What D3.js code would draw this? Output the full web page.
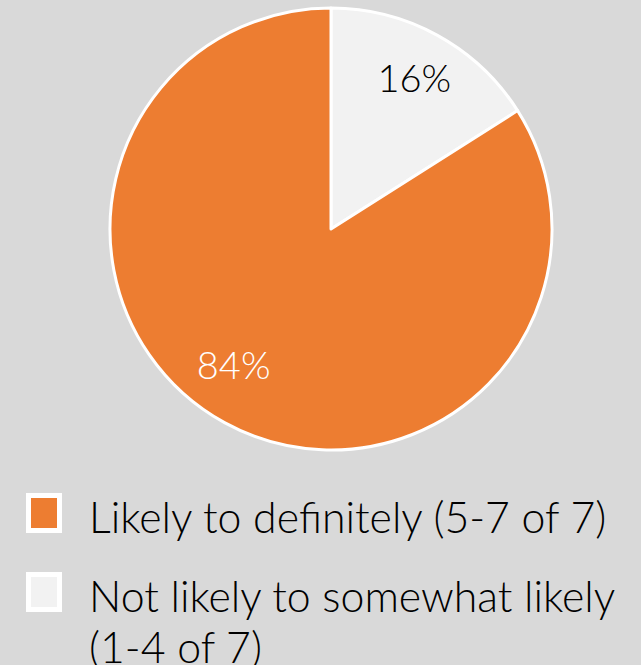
<!DOCTYPE html>
<html>
<head>
<meta charset="utf-8">
<script src="https://cdn.jsdelivr.net/npm/d3@7"></script>
<style>
  body { margin: 0; background: #d9d9d9; }
  svg { display: block; font-family: Lato, "Open Sans", sans-serif; font-weight: 300; }
</style>
</head>
<body>
<div id="chart"></div>
<script>
var categories = ["Not likely to somewhat likely (1-4 of 7)", "Likely to definitely (5-7 of 7)"]
var values = [16, 84]
var labels = ["16%", "84%"]
var colors = ["#f2f2f2", "#ed7d31"]
var labelColors = ["#000000", "#ffffff"]

// legend order (top to bottom)
var legendOrder = [1, 0]
var legendLines = [["Likely to definitely (5-7 of 7)"], ["Not likely to somewhat likely", "(1-4 of 7)"]]

var width = 641, height = 665
var cx = 331, cy = 229, radius = 221

var svg = d3.select("#chart").append("svg")
    .attr("width", width)
    .attr("height", height)

svg.append("rect")
    .attr("width", width)
    .attr("height", height)
    .attr("fill", "#d9d9d9")

var pie = d3.pie().sort(null).value(function(d) { return d; })
var arc = d3.arc().innerRadius(0).outerRadius(radius)
var labelArc = d3.arc().innerRadius(173).outerRadius(173)

var g = svg.append("g")
    .attr("transform", "translate(" + cx + "," + cy + ")")

var arcs = pie(values)

g.selectAll("path")
    .data(arcs)
    .enter().append("path")
    .attr("d", arc)
    .attr("fill", function(d, i) { return colors[i]; })
    .attr("stroke", "#ffffff")
    .attr("stroke-width", 3)
    .attr("stroke-linejoin", "round")

// small nudges to match the spreadsheet's label placement
var labelShift = [[0, 0], [-14, -17]]

g.selectAll("text.pct")
    .data(arcs)
    .enter().append("text")
    .attr("class", "pct")
    .attr("x", function(d, i) { return labelArc.centroid(d)[0] + labelShift[i][0]; })
    .attr("y", function(d, i) { return labelArc.centroid(d)[1] + labelShift[i][1]; })
    .attr("text-anchor", "middle")
    .attr("dominant-baseline", "central")
    .attr("font-size", 38)
    .attr("fill", function(d, i) { return labelColors[i]; })
    .text(function(d, i) { return labels[i]; })

/* legend */
var legendY = d3.scalePoint().domain(d3.range(legendOrder.length)).range([513, 592])

var legend = svg.selectAll(".legend")
    .data(legendOrder)
    .enter().append("g")
    .attr("class", "legend")
    .attr("transform", function(d, i) { return "translate(0," + legendY(i) + ")"; })

legend.append("rect")
    .attr("x", 28.5)
    .attr("y", -17.5)
    .attr("width", 31)
    .attr("height", 35)
    .attr("fill", function(d) { return colors[d]; })
    .attr("stroke", "#ffffff")
    .attr("stroke-width", 5)

legend.append("text")
    .attr("x", 89)
    .attr("y", 20)
    .attr("font-size", 42.8)
    .attr("fill", "#000000")
    .selectAll("tspan")
    .data(function(d, i) { return legendLines[i]; })
    .enter().append("tspan")
    .attr("x", 89)
    .attr("dy", function(d, j) { return j === 0 ? 0 : 51; })
    .text(function(d) { return d; })
</script>
</body>
</html>
